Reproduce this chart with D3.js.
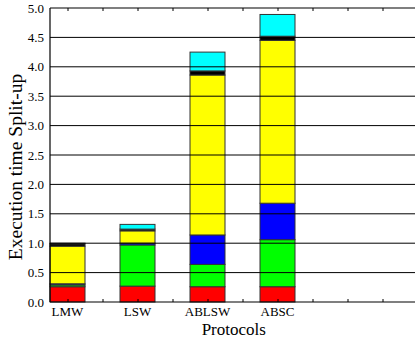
<!DOCTYPE html>
<html>
<head>
<meta charset="utf-8">
<script src="https://cdn.jsdelivr.net/npm/d3@7"></script>
<style>
  html, body { margin: 0; padding: 0; background: #fff; }
  svg { display: block; }
  text { font-family: "Liberation Serif", "DejaVu Serif", serif; fill: #000; }
</style>
</head>
<body>
<svg id="chart" width="415" height="341"></svg>
<script>
const categories = ["LMW", "LSW", "ABLSW", "ABSC"];
const red    = [0.26, 0.27, 0.26, 0.26];
const green  = [0.03, 0.70, 0.38, 0.80];
const blue   = [0.02, 0.03, 0.50, 0.62];
const yellow = [0.64, 0.21, 2.72, 2.77];
const black  = [0.04, 0.03, 0.07, 0.07];
const cyan   = [0.01, 0.08, 0.32, 0.37];
const yTicks = [0, 0.5, 1, 1.5, 2, 2.5, 3, 3.5, 4, 4.5, 5];

const seriesList = [
  { name: "red", values: red, color: "#ff0000" },
  { name: "green", values: green, color: "#00ff00" },
  { name: "blue", values: blue, color: "#0000ff" },
  { name: "yellow", values: yellow, color: "#ffff00" },
  { name: "black", values: black, color: "#000000" },
  { name: "cyan", values: cyan, color: "#00ffff" }
];

const svg = d3.select("#chart");
const mLeft = 50, mRight = 417.5, mTop = 8, mBottom = 302;

// x in slot units: each bar occupies [2i, 2i+1]
const x = d3.scaleLinear().domain([0, 10.5]).range([mLeft, mRight]);
const y = d3.scaleLinear().domain([0, 5]).range([mBottom, mTop]);

const table = categories.map((c, i) => {
  const row = { cat: c, idx: i };
  seriesList.forEach(s => row[s.name] = s.values[i]);
  return row;
});
const stack = d3.stack().keys(seriesList.map(s => s.name));
const stacked = stack(table);

const gBars = svg.append("g");
stacked.forEach((layer, li) => {
  gBars.selectAll(null).data(layer).enter().append("rect")
    .attr("x", d => x(2 * d.data.idx))
    .attr("width", d => x(2 * d.data.idx + 1) - x(2 * d.data.idx))
    .attr("y", d => y(d[1]))
    .attr("height", d => Math.max(0, y(d[0]) - y(d[1])))
    .attr("fill", seriesList[li].color)
    .attr("stroke", "#333")
    .attr("stroke-width", 1);
});

// gridlines on top of bars
svg.append("g").selectAll("line").data(yTicks.filter(t => t > 0 && t < 5)).enter().append("line")
  .attr("x1", mLeft).attr("x2", 415)
  .attr("y1", d => y(d)).attr("y2", d => y(d))
  .attr("stroke", "#000").attr("stroke-width", 1);

// frame
svg.append("line").attr("x1", mLeft).attr("x2", 415).attr("y1", y(0)).attr("y2", y(0)).attr("stroke", "#000").attr("stroke-width", 1.2);
svg.append("line").attr("x1", mLeft).attr("x2", 415).attr("y1", y(5)).attr("y2", y(5)).attr("stroke", "#000").attr("stroke-width", 1.2);
svg.append("line").attr("x1", mLeft).attr("x2", mLeft).attr("y1", y(0)).attr("y2", y(5)).attr("stroke", "#000").attr("stroke-width", 1.2);

// x ticks (bottom and top), inward
const xTickVals = d3.range(0.5, 10.5, 1);
const bottomAxis = d3.axisBottom(x).tickValues(xTickVals).tickSize(-3).tickFormat("");
const topAxis = d3.axisTop(x).tickValues(xTickVals).tickSize(-3).tickFormat("");
const gb = svg.append("g").attr("transform", `translate(0,${y(0)})`).call(bottomAxis);
const gt = svg.append("g").attr("transform", `translate(0,${y(5)})`).call(topAxis);
[gb, gt].forEach(g => { g.select(".domain").remove(); g.selectAll("line").attr("stroke", "#000"); });

// y axis labels
const leftAxis = d3.axisLeft(y).tickValues(yTicks).tickSize(0).tickPadding(6).tickFormat(d3.format(".1f"));
const gl = svg.append("g").attr("transform", `translate(${mLeft},0)`).call(leftAxis);
gl.select(".domain").remove();
gl.selectAll("text").style("font-family", "'Liberation Serif', serif").style("font-size", "13px").attr("fill", "#000");

// category labels
svg.append("g").selectAll("text").data(categories).enter().append("text")
  .attr("x", (d, i) => x(2 * i + 0.5))
  .attr("y", 316)
  .attr("text-anchor", "middle")
  .style("font-size", "13px")
  .text(d => d);

// axis titles
svg.append("text")
  .attr("x", (mLeft + mRight) / 2).attr("y", 335)
  .attr("text-anchor", "middle")
  .style("font-size", "17px")
  .text("Protocols");

svg.append("text")
  .attr("transform", `translate(22,167) rotate(-90)`)
  .attr("text-anchor", "middle")
  .style("font-size", "19.5px")
  .text("Execution time Split-up");
</script>
</body>
</html>
